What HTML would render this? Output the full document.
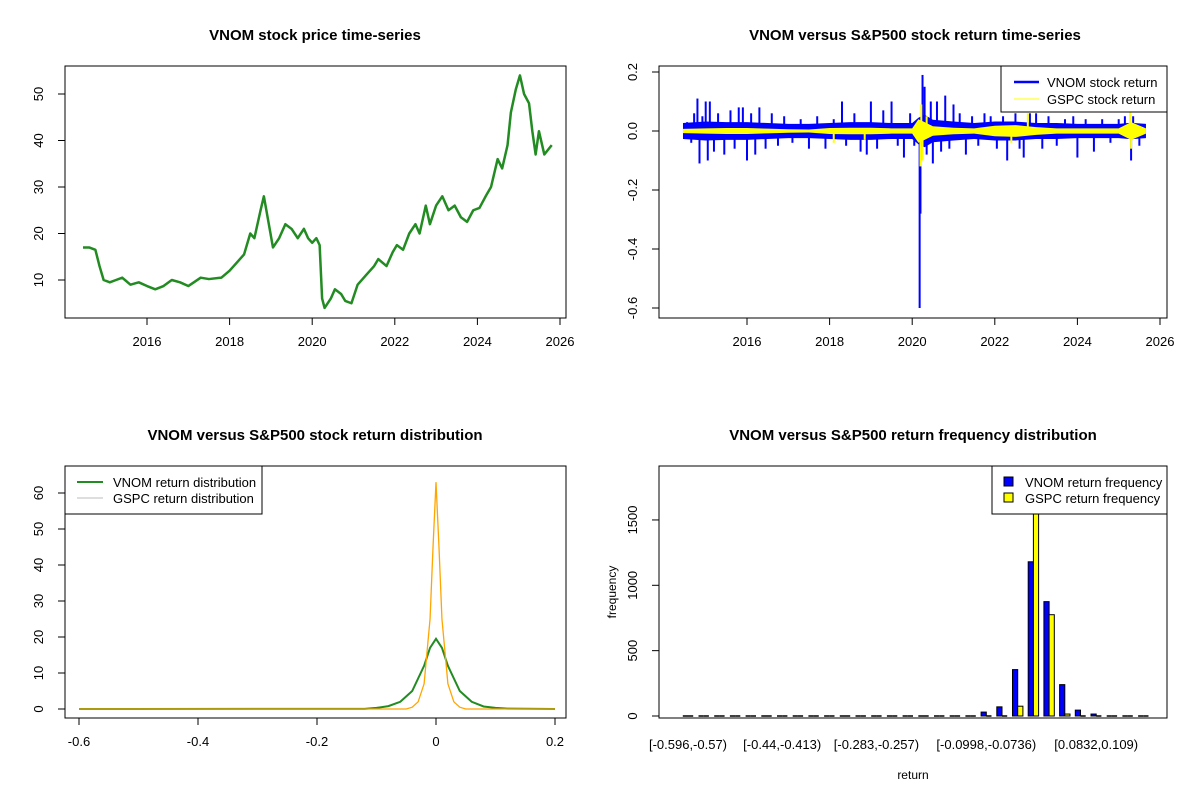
<!DOCTYPE html>
<html><head><meta charset="utf-8"><style>
body{margin:0;background:#fff;}
svg{display:block;font-family:"Liberation Sans",Arial,sans-serif;}
</style></head><body>
<svg id="s" width="1200" height="800" viewBox="0 0 1200 800" xmlns="http://www.w3.org/2000/svg"></svg>
<script>
// ---------- data ----------
const priceDates=[2014.45,2014.6,2014.75,2014.85,2014.95,2015.1,2015.25,2015.4,2015.6,2015.8,2016.0,2016.2,2016.4,2016.6,2016.8,2017.0,2017.3,2017.5,2017.8,2018.0,2018.2,2018.35,2018.5,2018.6,2018.75,2018.83,2018.95,2019.05,2019.2,2019.35,2019.5,2019.65,2019.8,2019.9,2020.0,2020.1,2020.18,2020.24,2020.3,2020.45,2020.55,2020.7,2020.8,2020.95,2021.1,2021.3,2021.5,2021.6,2021.8,2021.95,2022.05,2022.2,2022.35,2022.5,2022.6,2022.75,2022.85,2023.0,2023.15,2023.3,2023.45,2023.6,2023.75,2023.9,2024.05,2024.2,2024.33,2024.49,2024.6,2024.73,2024.81,2024.93,2025.03,2025.13,2025.25,2025.33,2025.41,2025.49,2025.62,2025.8];
const priceValues=[17,17,16.5,13,10,9.5,10,10.5,9,9.5,8.7,8,8.7,10,9.5,8.7,10.5,10.2,10.5,12,14,15.5,20,19,25,28,22,17,19,22,21,19,21,19,18,19,17.5,6,4,6,8,7,5.5,5,9,11,13,14.5,13,16,17.5,16.5,20,22,20,26,22,26,28,25,26,23.5,22.5,25,25.5,28,30,36,34,39,46,51,54,50,48,42,37,42,37,39];
const retDates=[2014.45,2015,2015.5,2016,2016.5,2017,2017.5,2018,2018.5,2019,2019.5,2020,2020.15,2020.3,2020.5,2021,2021.5,2022,2022.5,2023,2023.5,2024,2024.5,2025,2025.3,2025.66];
const vnomBand=[0.027,0.032,0.03,0.03,0.027,0.024,0.024,0.027,0.03,0.03,0.027,0.027,0.045,0.055,0.038,0.032,0.027,0.032,0.032,0.027,0.027,0.024,0.024,0.024,0.028,0.024];
const gspcBand=[0.007,0.009,0.01,0.01,0.008,0.006,0.005,0.01,0.011,0.011,0.009,0.009,0.04,0.03,0.016,0.011,0.009,0.018,0.02,0.013,0.009,0.009,0.009,0.009,0.03,0.009];
const vnomSpikeDates=[2014.55,2014.65,2014.72,2014.8,2014.85,2014.92,2015.0,2015.05,2015.1,2015.2,2015.3,2015.45,2015.6,2015.7,2015.8,2015.9,2016.0,2016.1,2016.2,2016.3,2016.45,2016.6,2016.75,2016.9,2017.1,2017.3,2017.5,2017.7,2017.9,2018.1,2018.3,2018.4,2018.6,2018.75,2018.9,2019.0,2019.15,2019.3,2019.5,2019.65,2019.8,2019.95,2020.05,2020.18,2020.2,2020.25,2020.3,2020.35,2020.45,2020.5,2020.6,2020.7,2020.8,2020.9,2021.0,2021.15,2021.3,2021.45,2021.6,2021.75,2021.9,2022.05,2022.2,2022.3,2022.5,2022.6,2022.7,2022.85,2023.0,2023.15,2023.3,2023.5,2023.7,2023.9,2024.0,2024.2,2024.4,2024.6,2024.8,2025.0,2025.15,2025.3,2025.35,2025.5];
const vnomSpikeValues=[0.03,-0.04,0.06,0.11,-0.11,0.05,0.1,-0.1,0.1,-0.07,0.06,-0.08,0.07,-0.06,0.08,0.08,-0.1,0.06,-0.08,0.08,-0.06,0.06,-0.05,0.05,-0.04,0.04,-0.06,0.05,-0.06,0.04,0.1,-0.05,0.06,-0.07,-0.08,0.1,-0.06,0.07,0.1,-0.05,-0.09,0.06,-0.05,-0.6,-0.28,0.19,0.15,-0.08,0.1,-0.11,0.1,-0.07,0.12,-0.06,0.09,0.06,-0.08,0.05,-0.05,0.06,0.05,-0.06,0.05,-0.1,0.06,-0.06,-0.09,0.06,0.06,-0.06,0.05,-0.05,0.04,0.05,-0.09,0.04,-0.07,0.04,-0.04,0.04,0.05,-0.1,0.05,-0.05];
const gspcSpikeDates=[2018.1,2018.85,2020.2,2020.22,2020.25,2020.35,2022.4,2022.8,2025.28,2025.3];
const gspcSpikeValues=[-0.04,-0.03,-0.12,0.09,-0.1,0.05,-0.04,0.06,0.09,-0.06];
const densX=[-0.6,-0.12,-0.1,-0.08,-0.06,-0.04,-0.02,-0.01,0,0.01,0.02,0.04,0.06,0.08,0.1,0.12,0.2];
const vnomDens=[0,0.05,0.3,0.8,2,5,12,17,19.5,17,12,5,2,0.7,0.3,0.1,0];
const gspcDensX=[-0.6,-0.05,-0.04,-0.03,-0.02,-0.01,-0.005,0,0.005,0.01,0.02,0.03,0.04,0.05,0.2];
const gspcDens=[0,0,0.5,2,7,25,45,63,45,25,7,2,0.5,0,0];
const binLabels=["[-0.596,-0.57)","[-0.44,-0.413)","[-0.283,-0.257)","[-0.0998,-0.0736)","[0.0832,0.109)"];
const binLabelIdx=[0,6,12,19,26];
const vnomFreq=[1,0,0,0,0,0,0,0,0,0,0,0,0,0,0,0,3,8,8,30,70,355,1180,875,240,45,15,8,8,3];
const gspcFreq=[0,0,0,0,0,0,0,0,0,0,0,0,0,0,0,0,0,0,2,3,10,75,1850,775,15,5,3,0,0,0];

// ---------- helpers ----------
const NS="http://www.w3.org/2000/svg";
const S=document.getElementById('s');
function el(t,a,p){const e=document.createElementNS(NS,t);for(const k in a)e.setAttribute(k,a[k]);(p||S).appendChild(e);return e;}
function txt(x,y,s,a){const e=el('text',Object.assign({x:x,y:y,'font-size':13,fill:'#000','text-anchor':'middle'},a||{}));e.textContent=s;return e;}
function box(x0,y0,x1,y1){el('rect',{x:x0,y:y0,width:x1-x0,height:y1-y0,fill:'none',stroke:'#000','stroke-width':1});}
function xtick(x,y,l){el('line',{x1:x,y1:y,x2:x,y2:y+7,stroke:'#000'});txt(x,y+28,l);}
function ytick(x,y,l){el('line',{x1:x,y1:y,x2:x-7,y2:y,stroke:'#000'});txt(x-22,y,l,{transform:`rotate(-90 ${x-22} ${y})`});}

// ---------- panel 1: price ----------
{
const t=txt(315,40,'VNOM stock price time-series',{'font-size':15,'font-weight':'bold'});
const X=v=>147+(v-2016)*41.3, Y=v=>280-(v-10)*4.65;
box(65,66,566,318);
[2016,2018,2020,2022,2024,2026].forEach(v=>xtick(X(v),318,String(v)));
el('line',{x1:X(2016),y1:318,x2:X(2026),y2:318,stroke:'#000'});
[10,20,30,40,50].forEach(v=>ytick(65,Y(v),String(v)));
const pl=el('polyline',{points:priceDates.map((d,i)=>X(d)+','+Y(priceValues[i])).join(' '),fill:'none',stroke:'#228B22','stroke-width':2.5,'stroke-linejoin':'round'});

}
// ---------- panel 2: returns ----------
{
const t=txt(915,40,'VNOM versus S&P500 stock return time-series',{'font-size':15,'font-weight':'bold'});
const X=v=>747+(v-2016)*41.3, Y=v=>131-v*295;
[2016,2018,2020,2022,2024,2026].forEach(v=>xtick(X(v),318,String(v)));
el('line',{x1:X(2016),y1:318,x2:X(2026),y2:318,stroke:'#000'});
[0.2,0,-0.2,-0.4,-0.6].forEach(v=>ytick(659,Y(v),v===0?'0.0':String(v)));
const band=(arr,col,op)=>{const up=retDates.map((d,i)=>X(d)+','+Y(arr[i]));const dn=retDates.map((d,i)=>X(d)+','+Y(-arr[i])).reverse();return el('polygon',{points:up.concat(dn).join(' '),fill:col,'fill-opacity':op});};
const b1=band(vnomBand,'#0000FF',1);
vnomSpikeDates.forEach((d,i)=>{const l=el('line',{x1:X(d),y1:Y(0),x2:X(d),y2:Y(vnomSpikeValues[i]),stroke:'#0000FF','stroke-width':2});});
const b2=band(gspcBand,'#FFFF00',1);
gspcSpikeDates.forEach((d,i)=>{const l=el('line',{x1:X(d),y1:Y(0),x2:X(d),y2:Y(gspcSpikeValues[i]),stroke:'#FFFF00','stroke-width':2});});
box(659,66,1167,318);
const lg=el('g',{});
el('rect',{x:1001,y:66,width:166,height:46,fill:'#fff',stroke:'#000'},lg);
el('line',{x1:1014,y1:82,x2:1039,y2:82,stroke:'#0000FF','stroke-width':2.5},lg);
el('line',{x1:1014,y1:99,x2:1039,y2:99,stroke:'#FFFF00','stroke-width':1},lg);
txt(1047,87,'VNOM stock return',{'text-anchor':'start'});txt(1047,104,'GSPC stock return',{'text-anchor':'start'});
}
// ---------- panel 3: density ----------
{
const t=txt(315,440,'VNOM versus S&P500 stock return distribution',{'font-size':15,'font-weight':'bold'});
const X=v=>79+(v+0.6)*595, Y=v=>709-v*3.6;
box(65,466,566,718);
[-0.6,-0.4,-0.2,0,0.2].forEach(v=>xtick(X(v),718,String(v)));
el('line',{x1:X(-0.6),y1:718,x2:X(0.2),y2:718,stroke:'#000'});
[0,10,20,30,40,50,60].forEach(v=>ytick(65,Y(v),String(v)));
const g1=el('polyline',{points:densX.map((d,i)=>X(d)+','+Y(vnomDens[i])).join(' '),fill:'none',stroke:'#228B22','stroke-width':2});

const g2=el('polyline',{points:gspcDensX.map((d,i)=>X(d)+','+Y(gspcDens[i])).join(' '),fill:'none',stroke:'#FFA500','stroke-width':1.3});

const lg=el('g',{});
el('rect',{x:65,y:466,width:197,height:48,fill:'#fff',stroke:'#000'},lg);
el('line',{x1:77,y1:482,x2:103,y2:482,stroke:'#228B22','stroke-width':2},lg);
el('line',{x1:77,y1:498,x2:103,y2:498,stroke:'#BEBEBE','stroke-width':1},lg);
txt(113,487,'VNOM return distribution',{'text-anchor':'start'});txt(113,503,'GSPC return distribution',{'text-anchor':'start'});
}
// ---------- panel 4: histogram ----------
{
const t=txt(913,440,'VNOM versus S&P500 return frequency distribution',{'font-size':15,'font-weight':'bold'});
const GX=i=>688+i*15.7, Y=v=>716-v*0.1307, bw=5.2;
const cl=el('clipPath',{id:'hc'});el('rect',{x:659,y:466,width:508,height:252},cl);
const hg=el('g',{'clip-path':'url(#hc)'});
const bar=(x,v,col,name)=>{
  if(Y(0)-Y(v)<1.5){const l=el('line',{x1:x,y1:Y(0),x2:x+bw,y2:Y(0),stroke:'#000','stroke-width':1.5},hg);return;}
  const r=el('rect',{x:x,y:Y(v),width:bw,height:Y(0)-Y(v),fill:col,stroke:'#000','stroke-width':1},hg);};
vnomFreq.forEach((v,i)=>bar(GX(i)-bw,v,'#0000FF','vnom-freq-bar'));
gspcFreq.forEach((v,i)=>bar(GX(i),v,'#FFFF00','gspc-freq-bar'));
box(659,466,1167,718);
[0,500,1000,1500].forEach(v=>ytick(659,Y(v),String(v)));
binLabelIdx.forEach((b,i)=>txt(GX(b),749,binLabels[i]));
txt(913,779,'return',{'font-size':12});
txt(616,592,'frequency',{'font-size':12,transform:'rotate(-90 616 592)'});
const lg=el('g',{});
el('rect',{x:992,y:466,width:175,height:48,fill:'#fff',stroke:'#000'},lg);
el('rect',{x:1004,y:477,width:9,height:9,fill:'#0000FF',stroke:'#000'},lg);
el('rect',{x:1004,y:493,width:9,height:9,fill:'#FFFF00',stroke:'#000'},lg);
txt(1025,487,'VNOM return frequency',{'text-anchor':'start'});txt(1025,503,'GSPC return frequency',{'text-anchor':'start'});
}
</script>
</body></html>
